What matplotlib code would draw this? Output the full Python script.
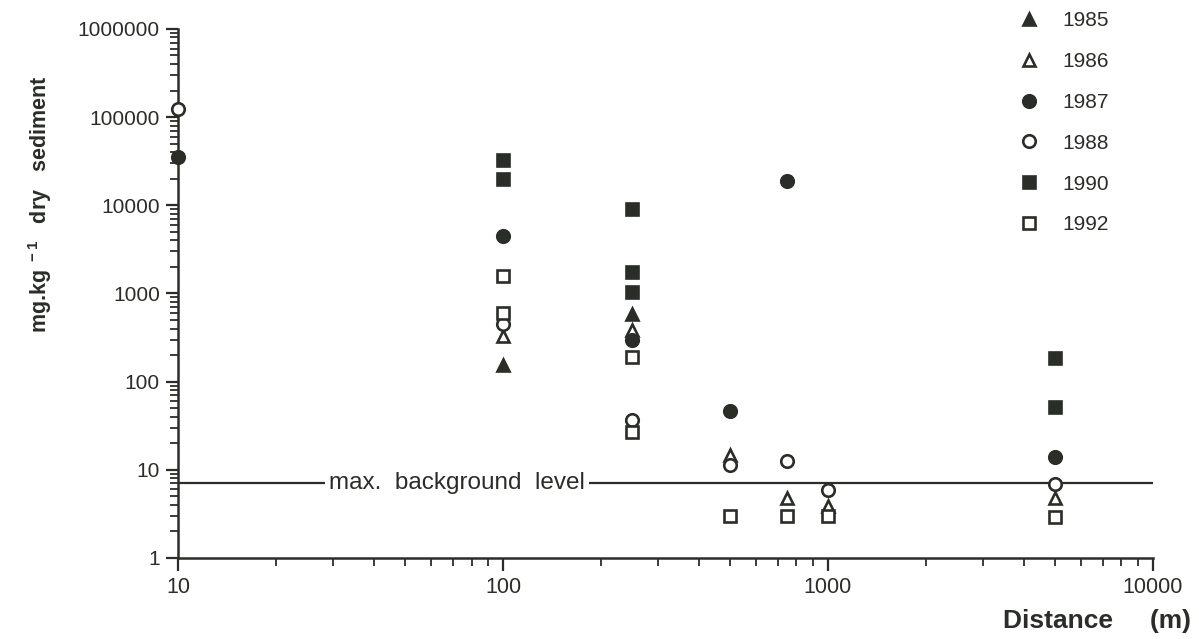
import matplotlib.pyplot as plt
from matplotlib.ticker import LogLocator, FixedLocator, NullFormatter

plt.rcParams['font.family'] = ['Liberation Sans', 'DejaVu Sans']

ink = '#2a2d28'

# Data: distance (m) and concentration (mg/kg dry sediment)
years = ['1985', '1986', '1987', '1988', '1990', '1992']
dist_1985 = [100, 250]
conc_1985 = [155, 580]
dist_1986 = [100, 250, 500, 750, 1000, 5000]
conc_1986 = [325, 390, 14.8, 4.8, 3.9, 4.8]
dist_1987 = [10, 100, 250, 500, 750, 5000]
conc_1987 = [35000, 4500, 300, 47, 19000, 14]
dist_1988 = [10, 100, 250, 500, 750, 1000, 5000]
conc_1988 = [125000, 450, 37, 11.4, 12.7, 5.9, 6.9]
dist_1990 = [100, 100, 250, 250, 250, 5000, 5000]
conc_1990 = [33000, 19700, 9000, 1730, 1050, 187, 52]
dist_1992 = [100, 100, 250, 250, 500, 750, 1000, 5000]
conc_1992 = [1560, 600, 190, 27, 3.0, 3.0, 3.0, 2.9]
background = 7

fig = plt.figure(figsize=(11.99, 6.39), dpi=100)
ax = fig.add_axes([0.1485, 0.1268, 0.8131, 0.8279])

series = [
    (dist_1985, conc_1985, '^', ink),
    (dist_1986, conc_1986, '^', 'white'),
    (dist_1987, conc_1987, 'o', ink),
    (dist_1988, conc_1988, 'o', 'white'),
    (dist_1990, conc_1990, 's', ink),
    (dist_1992, conc_1992, 's', 'white'),
]
handles = []
for (x, y, m, fc), lab in zip(series, years):
    h, = ax.plot(x, y, linestyle='none', marker=m, markersize=9,
                 markerfacecolor=fc, markeredgecolor=ink, markeredgewidth=1.9,
                 label=lab, zorder=3, clip_on=False)
    handles.append(h)

# Background level line with label
ax.axhline(background, color=ink, lw=1.6, zorder=2)
ax.text(72, background, 'max.  background  level', ha='center', va='center',
        fontsize=17.5, color=ink, zorder=2.5,
        bbox=dict(facecolor='white', edgecolor='none', pad=3))

ax.set_xscale('log')
ax.set_yscale('log')
ax.set_xlim(10, 10000)
ax.set_ylim(1, 1000000)

ax.xaxis.set_major_locator(FixedLocator([10, 100, 1000, 10000]))
ax.yaxis.set_major_locator(FixedLocator([1, 10, 100, 1000, 10000, 100000, 1000000]))
ax.set_xticklabels(['10', '100', '1000', '10000'])
ax.set_yticklabels(['1', '10', '100', '1000', '10000', '100000', '1000000'])
ax.xaxis.set_minor_locator(LogLocator(base=10, subs=range(2, 10), numticks=20))
ax.yaxis.set_minor_locator(LogLocator(base=10, subs=range(2, 10), numticks=20))
ax.xaxis.set_minor_formatter(NullFormatter())
ax.yaxis.set_minor_formatter(NullFormatter())

for s in ['top', 'right']:
    ax.spines[s].set_visible(False)
for s in ['left', 'bottom']:
    ax.spines[s].set_color(ink)
    ax.spines[s].set_linewidth(1.8)

ax.tick_params(axis='both', which='major', direction='out', length=9, width=1.6,
               colors=ink, labelcolor=ink)
ax.tick_params(axis='both', which='minor', direction='out', length=6, width=1.3, colors=ink)
ax.tick_params(axis='x', pad=5, labelsize=15.5)
ax.tick_params(axis='y', pad=4, labelsize=15)

# Axis labels
fig.text(0.033, 0.68, r'mg.kg$^{\mathregular{\ -1}}$   dry   sediment', rotation=90,
         ha='center', va='center', fontsize=15.5, fontweight='bold', color=ink)
fig.text(0.993, 0.028, 'Distance     (m)', ha='right', va='center',
         fontsize=19, fontweight='bold', color=ink)

# Legend at top right
fig.legend(handles=handles, labels=years, loc='upper left',
           bbox_to_anchor=(0.832, 1.012), frameon=False, fontsize=15,
           labelspacing=1.05, handletextpad=1.0, handlelength=1.2,
           labelcolor=ink)

plt.savefig('out.png', dpi=100)
